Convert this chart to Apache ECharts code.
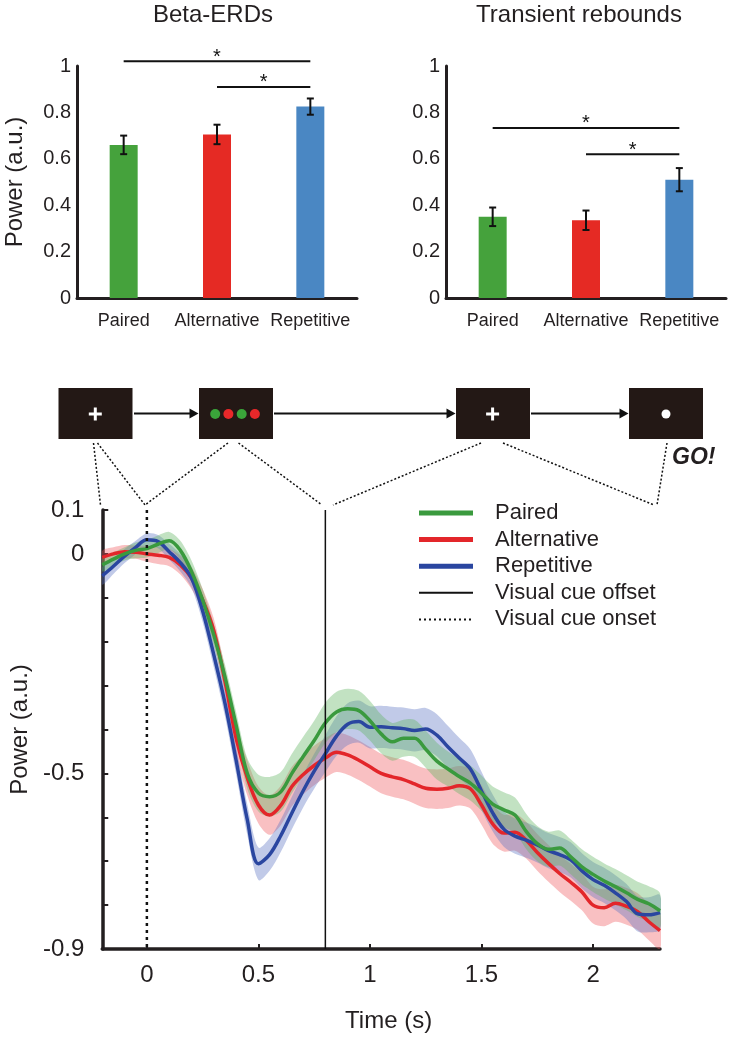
<!DOCTYPE html>
<html><head><meta charset="utf-8">
<script src="https://cdn.jsdelivr.net/npm/echarts@6/dist/echarts.min.js"></script>
<style>html,body{margin:0;padding:0;background:#fff}#c{width:732px;height:1040px}</style>
</head><body><div id="c"></div>
<script>
const FONT = '"Liberation Sans", Arial, Helvetica, sans-serif';
const TXT = '#231f20';

// ---- top bar charts ----
const conditions = ['Paired', 'Alternative', 'Repetitive'];
const erdMean = [0.66, 0.705, 0.825];
const erdErr = [0.04, 0.042, 0.035];
const reboundMean = [0.35, 0.335, 0.51];
const reboundErr = [0.04, 0.042, 0.05];
// [from category, to category, height]
const erdSig = [[0, 2, 1.02], [1, 2, 0.91]];
const reboundSig = [[0, 2, 0.733], [1, 2, 0.62]];
const barColors = ['#45a23c', '#e52a24', '#4a87c3'];

// ---- bottom time course ----
const time = [-0.2, -0.15, -0.1, -0.05, 0, 0.05, 0.1, 0.15, 0.2, 0.25, 0.3, 0.35, 0.4, 0.45, 0.5, 0.55, 0.6, 0.65, 0.7, 0.75, 0.8, 0.85, 0.9, 0.95, 1.0, 1.05, 1.1, 1.15, 1.2, 1.25, 1.3, 1.35, 1.4, 1.45, 1.5, 1.55, 1.6, 1.65, 1.7, 1.75, 1.8, 1.85, 1.9, 1.95, 2.0, 2.05, 2.1, 2.15, 2.2, 2.25, 2.3];
const paired = [-0.025, -0.012, 0.0, 0.008, 0.012, 0.022, 0.03, 0.008, -0.04, -0.105, -0.185, -0.28, -0.39, -0.5, -0.545, -0.553, -0.542, -0.5, -0.462, -0.425, -0.385, -0.36, -0.353, -0.357, -0.38, -0.41, -0.428, -0.42, -0.42, -0.445, -0.472, -0.49, -0.507, -0.522, -0.545, -0.57, -0.583, -0.595, -0.632, -0.66, -0.673, -0.67, -0.69, -0.713, -0.73, -0.745, -0.758, -0.772, -0.787, -0.797, -0.813];
const pairedCI = [0.015, 0.015, 0.015, 0.018, 0.02, 0.02, 0.02, 0.022, 0.025, 0.025, 0.025, 0.028, 0.03, 0.035, 0.042, 0.045, 0.045, 0.045, 0.045, 0.045, 0.046, 0.046, 0.046, 0.045, 0.045, 0.044, 0.043, 0.042, 0.042, 0.042, 0.042, 0.04, 0.04, 0.04, 0.04, 0.04, 0.04, 0.04, 0.04, 0.04, 0.04, 0.04, 0.04, 0.04, 0.04, 0.04, 0.04, 0.04, 0.04, 0.04, 0.04];
const alternative = [-0.008, 0.0, 0.005, 0.004, 0.0, -0.003, -0.008, -0.025, -0.055, -0.105, -0.175, -0.29, -0.42, -0.51, -0.572, -0.595, -0.573, -0.53, -0.503, -0.482, -0.465, -0.452, -0.458, -0.47, -0.485, -0.5, -0.508, -0.514, -0.524, -0.534, -0.536, -0.534, -0.528, -0.535, -0.572, -0.615, -0.636, -0.634, -0.652, -0.68, -0.705, -0.728, -0.748, -0.77, -0.8, -0.806, -0.796, -0.803, -0.815, -0.838, -0.858];
const alternativeCI = [0.015, 0.015, 0.015, 0.015, 0.018, 0.02, 0.02, 0.022, 0.025, 0.025, 0.028, 0.03, 0.035, 0.04, 0.042, 0.045, 0.045, 0.045, 0.045, 0.045, 0.045, 0.045, 0.045, 0.045, 0.045, 0.045, 0.045, 0.045, 0.045, 0.045, 0.045, 0.045, 0.045, 0.045, 0.045, 0.045, 0.042, 0.042, 0.042, 0.042, 0.042, 0.042, 0.042, 0.042, 0.042, 0.042, 0.042, 0.042, 0.042, 0.042, 0.042];
const repetitive = [-0.05, -0.028, -0.005, 0.015, 0.032, 0.028, 0.005, -0.02, -0.055, -0.13, -0.23, -0.34, -0.47, -0.605, -0.706, -0.685, -0.642, -0.59, -0.54, -0.495, -0.455, -0.415, -0.388, -0.382, -0.395, -0.394, -0.396, -0.398, -0.402, -0.399, -0.413, -0.44, -0.465, -0.49, -0.54, -0.59, -0.627, -0.643, -0.652, -0.663, -0.676, -0.685, -0.697, -0.722, -0.742, -0.755, -0.772, -0.792, -0.82, -0.822, -0.817];
const repetitiveCI = [0.02, 0.018, 0.016, 0.015, 0.015, 0.015, 0.018, 0.02, 0.022, 0.025, 0.028, 0.03, 0.032, 0.035, 0.037, 0.037, 0.037, 0.037, 0.038, 0.04, 0.042, 0.045, 0.048, 0.048, 0.048, 0.048, 0.048, 0.048, 0.048, 0.048, 0.048, 0.048, 0.046, 0.045, 0.044, 0.042, 0.04, 0.04, 0.04, 0.04, 0.04, 0.04, 0.04, 0.04, 0.04, 0.04, 0.04, 0.04, 0.04, 0.04, 0.04];
const timeTicks = [0, 0.5, 1, 1.5, 2];
const powerLabels = [0.1, 0, -0.5, -0.9];
const cueOnset = 0, cueOffset = 0.8;

const curveDefs = [
  {name: 'Alternative', mean: alternative, ci: alternativeCI, color: '#e3262a', band: '#ee5a5e'},
  {name: 'Repetitive', mean: repetitive, ci: repetitiveCI, color: '#2a46a0', band: '#5b74c2'},
  {name: 'Paired', mean: paired, ci: pairedCI, color: '#3a9a3e', band: '#5fb35f'}
];

const chart = echarts.init(document.getElementById('c'));

function barX(gi) {
  return {type: 'category', gridIndex: gi, data: conditions,
    axisLine: {lineStyle: {color: TXT, width: 3}}, axisTick: {show: false},
    axisLabel: {color: TXT, fontSize: 18, fontFamily: FONT, margin: 14, interval: 0}};
}
function barY(gi, name) {
  return {type: 'value', gridIndex: gi, min: 0, max: 1, interval: 0.2,
    name: name, nameLocation: 'middle', nameGap: 50,
    nameTextStyle: {color: TXT, fontSize: 24, fontFamily: FONT},
    axisLine: {show: true, lineStyle: {color: TXT, width: 3}}, axisTick: {show: false},
    splitLine: {show: false},
    axisLabel: {color: TXT, fontSize: 20, fontFamily: FONT, margin: 6}};
}
function errRender(params, api) {
  const x = api.value(0), lo = api.value(1), hi = api.value(2);
  const a = api.coord([x, hi]), b = api.coord([x, lo]);
  const w = 3.5, st = {stroke: '#111', lineWidth: 2};
  return {type: 'group', children: [
    {type: 'line', shape: {x1: a[0], y1: a[1], x2: b[0], y2: b[1]}, style: st},
    {type: 'line', shape: {x1: a[0] - w, y1: a[1], x2: a[0] + w, y2: a[1]}, style: st},
    {type: 'line', shape: {x1: b[0] - w, y1: b[1], x2: b[0] + w, y2: b[1]}, style: st}
  ]};
}
function sigRender(params, api) {
  const a = api.coord([api.value(0), api.value(2)]), b = api.coord([api.value(1), api.value(2)]);
  return {type: 'group', children: [
    {type: 'line', shape: {x1: a[0], y1: a[1], x2: b[0], y2: b[1]}, style: {stroke: '#111', lineWidth: 2}},
    {type: 'text', x: (a[0] + b[0]) / 2, y: a[1] - 4,
      style: {text: '*', font: '20px ' + FONT, fill: '#111', textAlign: 'center', textVerticalAlign: 'middle', align: 'center', verticalAlign: 'middle'}}
  ]};
}
function bandRender(color) {
  return function (params, api) {
    if (params.dataIndexInside !== 0) return null;
    const n = params.dataInsideLength;
    const up = [], lo = [];
    for (let i = 0; i < n; i++) {
      const t = api.value(0, i);
      up.push(api.coord([t, api.value(2, i)]));
      lo.push(api.coord([t, api.value(1, i)]));
    }
    return {type: 'polygon', shape: {points: up.concat(lo.reverse()), smooth: 0.3},
      style: {fill: color, opacity: 0.38}};
  };
}
function vRender(params, api) {
  const x = api.value(0);
  const a = api.coord([x, api.value(1)]), b = api.coord([x, api.value(2)]);
  const dotted = params.dataIndex === 0;
  return {type: 'line', shape: {x1: a[0], y1: a[1], x2: b[0], y2: b[1]},
    style: {stroke: '#111', lineWidth: dotted ? 2.5 : 1.5, lineDash: dotted ? [3, 4] : null}};
}

const series = [];
[[erdMean, erdErr, erdSig], [reboundMean, reboundErr, reboundSig]].forEach(([m, e, s], gi) => {
  series.push({type: 'bar', xAxisIndex: gi, yAxisIndex: gi, barWidth: 28, silent: true,
    data: m.map((v, i) => ({value: v, itemStyle: {color: barColors[i]}}))});
  series.push({type: 'custom', xAxisIndex: gi, yAxisIndex: gi, renderItem: errRender, silent: true, z: 5,
    encode: {x: 0, y: [1, 2]}, data: m.map((v, i) => [i, v - e[i], v + e[i]])});
  series.push({type: 'custom', xAxisIndex: gi, yAxisIndex: gi, renderItem: sigRender, silent: true, z: 5, clip: false,
    encode: {x: [0, 1], y: 2}, data: s});
});
curveDefs.forEach(c => {
  series.push({type: 'custom', xAxisIndex: 2, yAxisIndex: 2, renderItem: bandRender(c.band), silent: true, z: 1, clip: true,
    encode: {x: 0, y: [1, 2]}, data: time.map((t, i) => [t, c.mean[i] - c.ci[i], c.mean[i] + c.ci[i]])});
});
curveDefs.forEach(c => {
  series.push({type: 'line', name: c.name, xAxisIndex: 2, yAxisIndex: 2, symbol: 'none', smooth: 0.35, silent: true, z: 3,
    lineStyle: {color: c.color, width: 3.5}, data: time.map((t, i) => [t, c.mean[i]])});
});
series.push({type: 'custom', xAxisIndex: 2, yAxisIndex: 2, renderItem: vRender, silent: true, z: 6,
  encode: {x: 0, y: [1, 2]}, data: [[cueOnset, 0.1, -0.9], [cueOffset, 0.1, -0.9]]});

const G = [];
function txt(x, y, text, size, opts) {
  G.push(Object.assign({type: 'text', x: x, y: y, silent: true,
    style: Object.assign({text: text, font: size + 'px ' + FONT, fill: TXT, textAlign: 'center', textVerticalAlign: 'middle', align: 'center', verticalAlign: 'middle'}, opts || {})}));
}
function seg(x1, y1, x2, y2, style) {
  G.push({type: 'line', silent: true, shape: {x1, y1, x2, y2}, style: Object.assign({stroke: '#111', lineWidth: 2}, style || {})});
}
// titles
txt(213, 15, 'Beta-ERDs', 24);
txt(579, 15, 'Transient rebounds', 24);
// schematic boxes
const BOX = '#231815';
[[58.5, 388], [199, 388], [456, 388], [629, 388]].forEach(([x, y]) => {
  G.push({type: 'rect', silent: true, shape: {x: x, y: y, width: 74, height: 51}, style: {fill: BOX}});
});
[[95.3, 414], [492.6, 414]].forEach(([cx, cy]) => {
  seg(cx - 6.5, cy, cx + 6.5, cy, {stroke: '#fff', lineWidth: 3});
  seg(cx, cy - 6.5, cx, cy + 6.5, {stroke: '#fff', lineWidth: 3});
});
[[215.2, '#3aa53a'], [228.4, '#e8282a'], [241.7, '#3aa53a'], [254.9, '#e8282a']].forEach(([cx, col]) => {
  G.push({type: 'circle', silent: true, shape: {cx: cx, cy: 414, r: 5}, style: {fill: col}});
});
G.push({type: 'circle', silent: true, shape: {cx: 666, cy: 414, r: 4.5}, style: {fill: '#fff'}});
// arrows
[[134, 198.5], [274, 455.5], [531, 628.5]].forEach(([x1, x2]) => {
  seg(x1, 413.5, x2 - 8, 413.5, {lineWidth: 2});
  G.push({type: 'polygon', silent: true, shape: {points: [[x2 - 9, 408.5], [x2, 413.5], [x2 - 9, 418.5]]}, style: {fill: '#111'}});
});
G.push({type: 'text', x: 672, y: 458, silent: true,
  style: {text: 'GO!', font: 'italic bold 23px ' + FONT, fill: TXT, textAlign: 'left', textVerticalAlign: 'middle', align: 'left', verticalAlign: 'middle'}});
// dotted connectors
const dot = {lineWidth: 1.5, lineDash: [2, 2]};
[[93.5, 443, 100.5, 505], [97.5, 443, 145, 505], [228, 443, 145, 505], [238.5, 443, 322, 505],
 [481, 443, 333, 505], [503, 443, 654, 505], [667, 443, 657, 505]].forEach(p => seg(p[0], p[1], p[2], p[3], dot));
// legend
const lg = [
  ['Paired', {stroke: '#3a9a3e', lineWidth: 5}],
  ['Alternative', {stroke: '#e3262a', lineWidth: 5}],
  ['Repetitive', {stroke: '#2a46a0', lineWidth: 5}],
  ['Visual cue offset', {stroke: '#111', lineWidth: 2}],
  ['Visual cue onset', {stroke: '#111', lineWidth: 2, lineDash: [2, 3]}]
];
lg.forEach(([label, st], i) => {
  const y = 513 + i * 26.6;
  seg(419, y, 473, y, st);
  txt(495, y, label, 22, {textAlign: 'left', align: 'left'});
});

chart.setOption({
  animation: false,
  backgroundColor: '#fff',
  grid: [
    {left: 77, top: 66, width: 280, height: 232},
    {left: 446, top: 66, width: 280, height: 232},
    {left: 100, top: 510, width: 560, height: 439}
  ],
  xAxis: [barX(0), barX(1),
    {type: 'value', gridIndex: 2, min: -0.2, max: 2.3,
      name: 'Time (s)', nameLocation: 'middle', nameGap: 60,
      nameTextStyle: {color: TXT, fontSize: 24, fontFamily: FONT, padding: [0, 0, 0, 15]},
      axisLine: {onZero: false, lineStyle: {color: TXT, width: 3.5}},
      axisTick: {inside: true, length: 5, lineStyle: {color: TXT, width: 2}, customValues: timeTicks},
      axisLabel: {color: TXT, fontSize: 24, fontFamily: FONT, margin: 14, customValues: timeTicks},
      splitLine: {show: false}}],
  yAxis: [barY(0, 'Power (a.u.)'), barY(1, ''),
    {type: 'value', gridIndex: 2, min: -0.9, max: 0.1, interval: 0.1,
      name: 'Power (a.u.)', nameLocation: 'middle', nameGap: 68,
      nameTextStyle: {color: TXT, fontSize: 24, fontFamily: FONT},
      axisLine: {show: true, onZero: false, lineStyle: {color: TXT, width: 3.5}},
      axisTick: {inside: true, length: 6, lineStyle: {color: TXT, width: 2}},
      axisLabel: {color: TXT, fontSize: 24, fontFamily: FONT, margin: 18,
        formatter: v => { const r = Math.round(v * 10) / 10; return powerLabels.indexOf(r) >= 0 ? String(r === 0 ? 0 : r) : ''; }},
      splitLine: {show: false}}],
  series: series,
  graphic: G
});
</script></body></html>
